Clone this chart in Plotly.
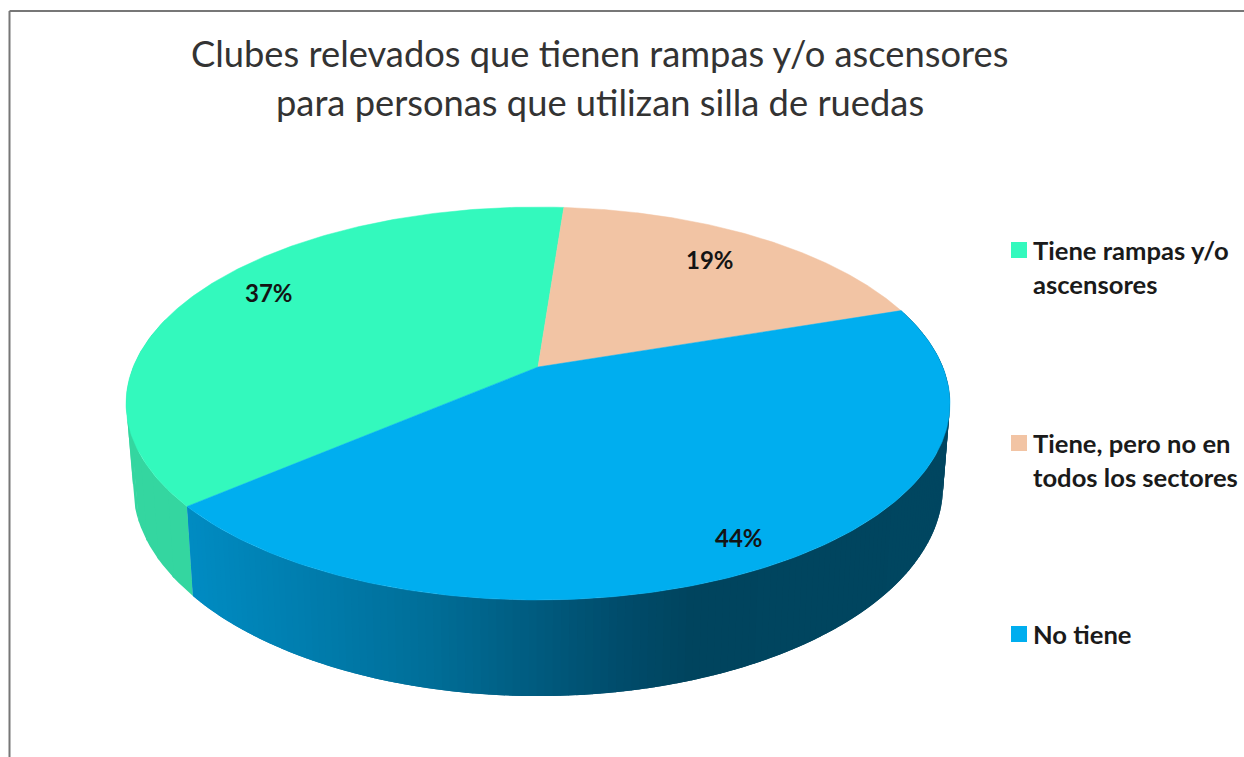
import numpy as np
import plotly.graph_objects as go

# Data
categories = ["Tiene rampas y/o ascensores", "Tiene, pero no en todos los sectores", "No tiene"]
values = [37.4, 18.7, 43.9]
top_colors = ["#33F9BD", "#F2C4A4", "#00AEEF"]
legend_lines = [["Tiene rampas y/o", "ascensores"], ["Tiene, pero no en", "todos los sectores"], ["No tiene"]]
title_lines = ["Clubes relevados que tienen rampas y/o ascensores",
               "para personas que utilizan silla de ruedas"]

# Perspective pie geometry (pixels of the page)
W, H = 1244, 757
CX = 538
K = 0.1858
TOP = dict(y0=367, a=189.7, b=404.8)
LOW = dict(y0=447, a=202.8, b=398.0)
START_DEG = 229.7  # clockwise from 12 o'clock, where the first slice starts


def project(theta_deg, g, r=1.0):
    t = np.radians(theta_deg)
    u, v = r * np.sin(t), r * np.cos(t)
    d = 1 + K * v
    return CX + g["b"] * u / d, g["y0"] - g["a"] * v / d


def lerp_color(x, stops):
    xs = [s[0] for s in stops]
    cs = np.array([s[1] for s in stops], float)
    return "rgb({:.0f},{:.0f},{:.0f})".format(*[np.interp(x, xs, cs[:, i]) for i in range(3)])


BLUE_STOPS = [(190, (0, 140, 195)), (430, (0, 110, 152)), (620, (0, 76, 107)), (690, (0, 68, 94)), (950, (0, 70, 96))]
TEAL_SIDE = "rgb(52,214,160)"

# slice boundaries
fracs = np.array(values) / sum(values) * 360
starts = (START_DEG + np.concatenate([[0], np.cumsum(fracs)[:-1]])) % 360
ends = starts + fracs

fig = go.Figure()


def wall(t0, t1, color):
    tt = np.linspace(t0, t1, 4)
    xt, yt = project(tt, TOP)
    xl, yl = project(tt, LOW)
    fig.add_trace(go.Scatter(x=list(xt) + list(xl[::-1]), y=list(yt) + list(yl[::-1]), mode="lines",
                             fill="toself", fillcolor=color, line=dict(color=color, width=0),
                             hoverinfo="skip", showlegend=False))


# side wall: teal part first, then the blue slice as narrow overlapping strips
teal_edges = np.linspace(starts[0], starts[0] + 55, 12)
for t0, t1 in zip(teal_edges[:-1], teal_edges[1:]):
    wall(t0, t1 + 0.5, TEAL_SIDE)

blue_a = starts[2]
blue_edges = np.linspace(blue_a, blue_a + fracs[2], 170)
for t0, t1 in zip(blue_edges[:-1], blue_edges[1:]):
    xm, _ = project((t0 + t1) / 2, LOW)
    # each strip runs on over the next one so no seam shows between them
    wall(t0, min(t1 + 1.0, blue_a + fracs[2]), lerp_color(xm, BLUE_STOPS))

# top face
for i in range(3):
    tt = np.linspace(starts[i], ends[i], 200)
    x, y = project(tt, TOP)
    ax, ay = project(0.0, TOP, r=0.0)
    fig.add_trace(go.Scatter(x=[ax, *x, ax], y=[ay, *y, ay], mode="lines", fill="toself",
                             fillcolor=top_colors[i], line=dict(color=top_colors[i], width=0.5),
                             name=categories[i], hoverinfo="name", showlegend=False))

ann = []
# percent labels
label_pos = [(269, 292), (710, 259), (739, 537)]
for v, (x, y) in zip(values, label_pos):
    ann.append(dict(x=x, y=y, text=f"<b>{round(v)}%</b>", showarrow=False,
                    font=dict(family="Lato", size=24, color="#141414"), xanchor="center", yanchor="middle"))

# title
for line, y in zip(title_lines, (53, 102)):
    ann.append(dict(x=599.5, y=y, text=line, showarrow=False,
                    font=dict(family="Lato", size=36.3, color="#333333"), xanchor="center", yanchor="middle"))

# legend
legend_y = [(250, 284), (443, 477), (634,)]
shapes = []
for lines, ys, col in zip(legend_lines, legend_y, top_colors):
    for ln, y in zip(lines, ys):
        ann.append(dict(x=1031, y=y, text=f"<b>{ln}</b>", showarrow=False,
                        font=dict(family="Lato", size=25.6, color="#1a1a1a"), xanchor="left", yanchor="middle"))
    shapes.append(dict(type="rect", x0=1011, x1=1027, y0=ys[0] - 8, y1=ys[0] + 8,
                       fillcolor=col, line=dict(width=0), layer="above"))

# frame of the picture
for x0, y0, x1, y1 in [(9.5, 11, 9.5, H), (9.5, 11, W, 11)]:
    shapes.append(dict(type="line", x0=x0, y0=y0, x1=x1, y1=y1, line=dict(color="#777777", width=2)))

fig.update_layout(
    width=W, height=H, margin=dict(l=0, r=0, t=0, b=0),
    paper_bgcolor="white", plot_bgcolor="white", showlegend=False,
    xaxis=dict(range=[0, W], visible=False, fixedrange=True),
    yaxis=dict(range=[H, 0], visible=False, fixedrange=True),
    annotations=ann, shapes=shapes,
)
fig.write_html("out.html", config={"displayModeBar": False},
               post_script="document.body.style.margin='0';document.body.style.overflow='hidden';")
